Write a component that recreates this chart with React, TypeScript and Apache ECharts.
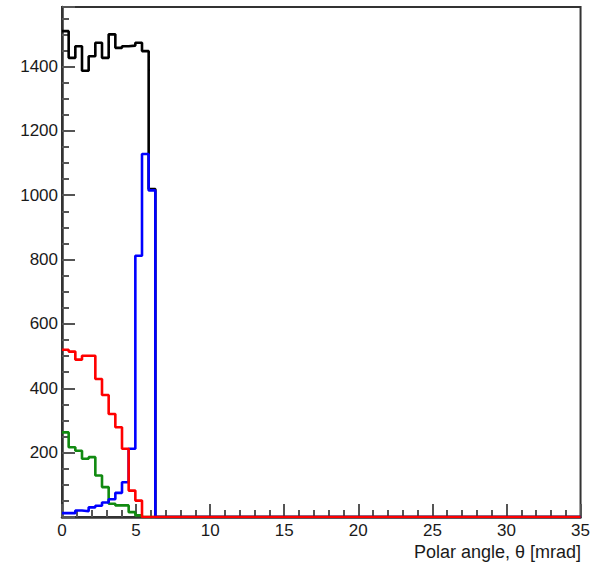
import React, { useEffect, useRef } from "react";
import * as echarts from "echarts";

// Histogram definition: bins of 0.45 mrad, axis shown 0–35.
const X_MIN = 0;
const X_MAX = 35;
const BIN_WIDTH = 0.45;
const Y_MAX = 1585;

const xTicks = [0, 5, 10, 15, 20, 25, 30, 35];
const yTicks = [200, 400, 600, 800, 1000, 1200, 1400];

// Bin contents (first 14 bins, remaining bins are empty)
const blackCounts = [1510, 1427, 1463, 1387, 1432, 1474, 1427, 1500, 1458, 1463, 1465, 1474, 1448, 1019];
const greenCounts = [263, 217, 206, 181, 186, 129, 93, 41, 36, 36, 15, 5, 0, 0];
const blueCounts = [12, 12, 20, 18, 30, 35, 45, 55, 75, 108, 212, 812, 1128, 1015];
const redCounts = [520, 514, 489, 501, 501, 429, 379, 320, 279, 212, 82, 51, 0, 0];

const xTitle = "Polar angle, θ [mrad]";

const FONT = "'Liberation Sans', Arial, Helvetica, sans-serif";

function histPoints(counts: number[]): number[][] {
  const pts: number[][] = counts.map((v, i) => [X_MIN + i * BIN_WIDTH, v]);
  pts.push([X_MIN + counts.length * BIN_WIDTH, 0]);
  pts.push([X_MAX, 0]);
  return pts;
}

export default function App() {
  const ref = useRef<HTMLDivElement>(null);

  useEffect(() => {
    if (!ref.current) return;
    const chart = echarts.init(ref.current, undefined, { renderer: "svg" });

    const mk = (name: string, counts: number[], color: string, z: number) => ({
      name,
      type: "line",
      step: "end",
      data: histPoints(counts),
      showSymbol: false,
      symbol: "none",
      lineStyle: { color, width: 2.6 },
      z,
      clip: true,
    });

    chart.setOption({
      animation: false,
      backgroundColor: "#ffffff",
      grid: {
        left: 62,
        right: 12,
        top: 7,
        bottom: 48,
        show: true,
        borderColor: "#333",
        borderWidth: 2,
        backgroundColor: "transparent",
      },
      xAxis: {
        type: "value",
        min: X_MIN,
        max: X_MAX,
        interval: 5,
        axisLine: { show: true, onZero: false, lineStyle: { color: "#333", width: 2.5 } },
        axisTick: { show: true, inside: true, length: 13, lineStyle: { color: "#555", width: 2 } },
        minorTick: { show: true, splitNumber: 5, length: 7, lineStyle: { color: "#555", width: 2 } },
        splitLine: { show: false },
        axisLabel: {
          show: true,
          margin: 4,
          color: "#1a1a1a",
          fontFamily: FONT,
          fontSize: 17,
          lineHeight: 18,
          formatter: (v: number) => (xTicks.includes(v) ? String(v) : ""),
        },
      },
      yAxis: {
        type: "value",
        min: 0,
        max: Y_MAX,
        interval: 200,
        axisLine: { show: true, onZero: false, lineStyle: { color: "#333", width: 2.5 } },
        axisTick: { show: true, inside: true, length: 13, lineStyle: { color: "#555", width: 2 } },
        minorTick: { show: true, splitNumber: 4, length: 7, lineStyle: { color: "#555", width: 2 } },
        splitLine: { show: false },
        axisLabel: {
          show: true,
          margin: 4,
          color: "#1a1a1a",
          fontFamily: FONT,
          fontSize: 17,
          showMaxLabel: false,
          formatter: (v: number) => (yTicks.includes(v) ? String(v) : ""),
        },
      },
      graphic: [
        {
          type: "text",
          right: 12,
          top: 543,
          style: {
            text: xTitle,
            fill: "#1a1a1a",
            font: `18px ${FONT}`,
          },
        },
      ],
      series: [
        mk("total", blackCounts, "#000000", 2),
        mk("green", greenCounts, "#118a11", 3),
        mk("blue", blueCounts, "#0000ff", 4),
        mk("red", redCounts, "#ff0000", 5),
      ],
    });

    return () => {
      chart.dispose();
    };
  }, []);

  return (
    <div
      ref={ref}
      style={{ position: "fixed", left: 0, top: 0, width: 593, height: 565, background: "#fff" }}
    />
  );
}
